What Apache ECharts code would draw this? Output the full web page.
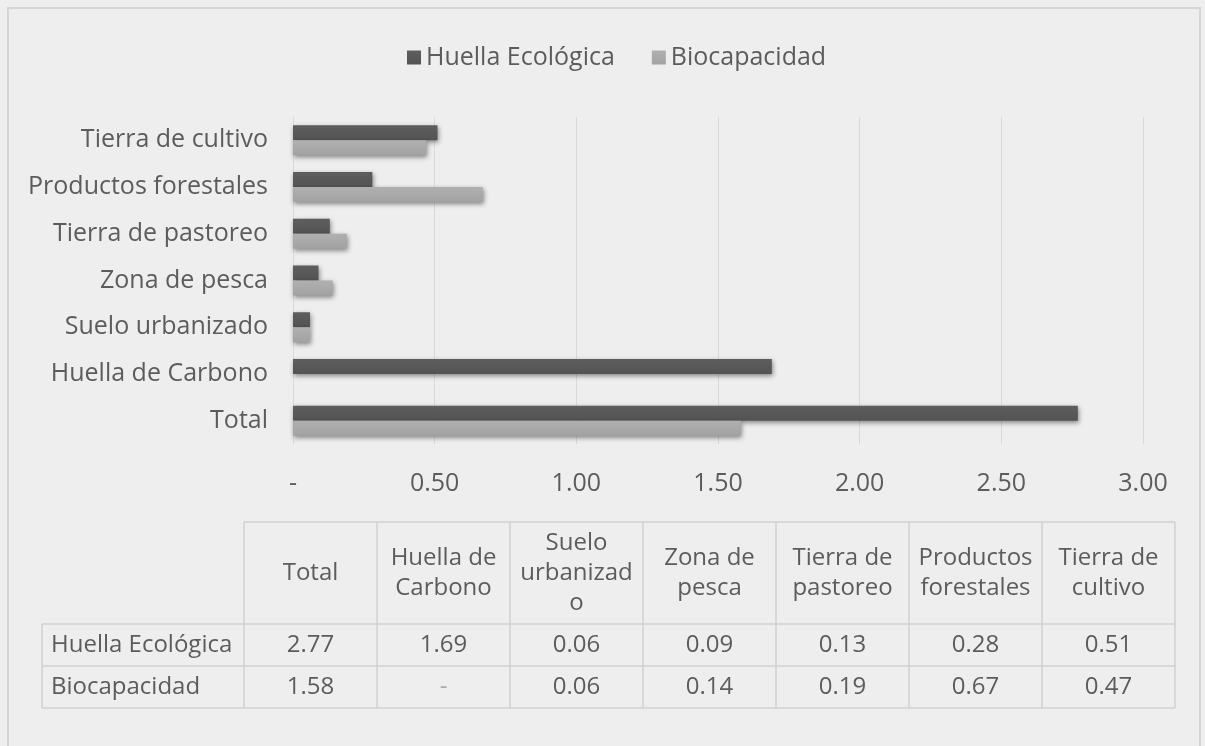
<!DOCTYPE html>
<html>
<head>
<meta charset="utf-8">
<script src="https://cdn.jsdelivr.net/npm/echarts@6/dist/echarts.min.js"></script>
<style>
  html, body { margin: 0; padding: 0; background: #eeeeee; }
  #chart { width: 1205px; height: 746px; }
</style>
</head>
<body>
<div id="chart"></div>
<script>
// categories in table order (bottom to top on the chart)
const categories = ['Total', 'Huella de Carbono', 'Suelo urbanizado', 'Zona de pesca',
  'Tierra de pastoreo', 'Productos forestales', 'Tierra de cultivo']
const tableHeaders = ['Total', 'Huella de\nCarbono', 'Suelo\nurbanizad\no', 'Zona de\npesca',
  'Tierra de\npastoreo', 'Productos\nforestales', 'Tierra de\ncultivo']
const huella = [2.77, 1.69, 0.06, 0.09, 0.13, 0.28, 0.51]
const biocapacidad = [1.58, 0, 0.06, 0.14, 0.19, 0.67, 0.47]
const seriesNames = ['Huella Ecológica', 'Biocapacidad']

const textColor = '#5c5c5c'
const font = '"Open Sans", sans-serif'
const fmt = v => (v === 0 ? '-' : v.toFixed(2))

// data table drawn under the chart
const colX = [244, 377, 510, 643, 776, 909, 1042, 1175]
const rowY = [522, 624, 666, 708]
const labelLeft = 42
const lineColor = '#d0d0d0'
const table = []
const line = (x1, y1, x2, y2) => ({
  type: 'line', shape: { x1, y1, x2, y2 }, style: { stroke: lineColor, lineWidth: 1.5 }, silent: true
})
table.push(line(colX[0], rowY[0], colX[7], rowY[0]))
for (let r = 1; r < rowY.length; r++) table.push(line(labelLeft, rowY[r], colX[7], rowY[r]))
table.push(line(labelLeft, rowY[1], labelLeft, rowY[3]))
colX.forEach(x => table.push(line(x, rowY[0], x, rowY[3])))
tableHeaders.forEach((h, i) => {
  table.push({
    type: 'text', x: (colX[i] + colX[i + 1]) / 2, y: (rowY[0] + rowY[1]) / 2, silent: true,
    style: { text: h, fill: textColor, font: '24px ' + font, align: 'center', verticalAlign: 'middle', lineHeight: 30 }
  })
})
const rows = [huella, biocapacidad]
rows.forEach((vals, r) => {
  const cy = (rowY[r + 1] + rowY[r + 2]) / 2
  table.push({
    type: 'text', x: labelLeft + 9, y: cy, silent: true,
    style: { text: seriesNames[r], fill: textColor, font: '24px ' + font, align: 'left', verticalAlign: 'middle' }
  })
  vals.forEach((v, i) => {
    table.push({
      type: 'text', x: (colX[i] + colX[i + 1]) / 2, y: cy, silent: true,
      style: { text: fmt(v), fill: v === 0 ? '#aaaaaa' : textColor, font: '24px ' + font, align: 'center', verticalAlign: 'middle' }
    })
  })
})

const shadow = { shadowColor: 'rgba(0,0,0,0.45)', shadowBlur: 5, shadowOffsetX: 1, shadowOffsetY: 2 }

const option = {
  backgroundColor: '#eeeeee',
  textStyle: { fontFamily: font },
  legend: {
    top: 40,
    left: 402,
    data: seriesNames,
    icon: 'rect',
    itemWidth: 14,
    itemHeight: 14,
    itemGap: 37,
    textStyle: { color: textColor, fontSize: 25, fontFamily: font }
  },
  grid: { left: 293, right: 62, top: 117, bottom: 302 },
  xAxis: {
    type: 'value',
    min: 0,
    max: 3,
    interval: 0.5,
    axisLine: { show: false },
    axisTick: { show: false },
    splitLine: { lineStyle: { color: '#d9d9d9', width: 1 } },
    axisLabel: { color: textColor, fontSize: 25, margin: 27, formatter: v => fmt(v) }
  },
  yAxis: {
    type: 'category',
    data: categories,
    axisLine: { show: true, lineStyle: { color: '#d9d9d9' } },
    axisTick: { show: false },
    axisLabel: { color: textColor, fontSize: 25, margin: 25 }
  },
  series: [
    {
      name: 'Huella Ecológica',
      type: 'bar',
      data: huella,
      barWidth: 15,
      barGap: '0%',
      itemStyle: {
        color: new echarts.graphic.LinearGradient(0, 0, 0, 1, [
          { offset: 0, color: '#5e5e5e' }, { offset: 1, color: '#535353' }
        ]),
        ...shadow
      }
    },
    {
      name: 'Biocapacidad',
      type: 'bar',
      data: biocapacidad,
      barWidth: 15,
      barGap: '0%',
      itemStyle: {
        color: new echarts.graphic.LinearGradient(0, 0, 0, 1, [
          { offset: 0, color: '#b0b0b0' }, { offset: 1, color: '#a2a2a2' }
        ]),
        ...shadow
      }
    }
  ],
  graphic: [
    {
      type: 'rect', shape: { x: 8, y: 8, width: 1192, height: 760 }, silent: true, z: -1,
      style: { fill: 'none', stroke: '#d6d6d6', lineWidth: 2 }
    },
    ...table
  ]
}

const chart = echarts.init(document.getElementById('chart'))
chart.setOption(option)
</script>
</body>
</html>
